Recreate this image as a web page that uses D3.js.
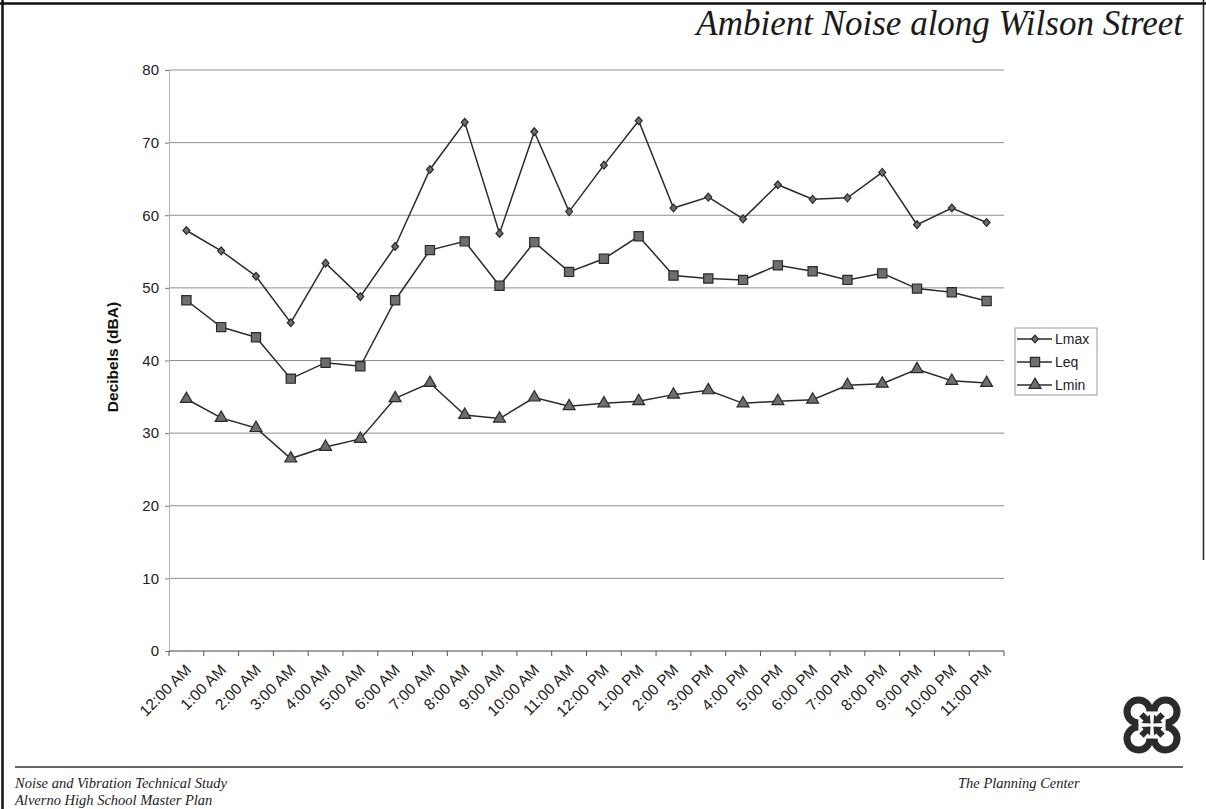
<!DOCTYPE html>
<html>
<head>
<meta charset="utf-8">
<script src="https://cdn.jsdelivr.net/npm/d3@7"></script>
<style>
  html, body { margin: 0; padding: 0; background: #fff; }
  svg { display: block; }
  .tick-label { font-family: Arial, "Liberation Sans", sans-serif; fill: #222; }
  .serif-italic { font-family: "Liberation Serif", "DejaVu Serif", serif; font-style: italic; }
</style>
</head>
<body>
<svg id="page" width="1206" height="809"></svg>
<script>
// Hourly ambient noise readings along Wilson Street (dBA)
const hours = ["12:00 AM","1:00 AM","2:00 AM","3:00 AM","4:00 AM","5:00 AM","6:00 AM","7:00 AM",
  "8:00 AM","9:00 AM","10:00 AM","11:00 AM","12:00 PM","1:00 PM","2:00 PM","3:00 PM",
  "4:00 PM","5:00 PM","6:00 PM","7:00 PM","8:00 PM","9:00 PM","10:00 PM","11:00 PM"];

const lmax = [57.9, 55.1, 51.6, 45.2, 53.4, 48.8, 55.7, 66.3, 72.8, 57.5, 71.5, 60.5,
  66.9, 73.0, 61.0, 62.5, 59.5, 64.2, 62.2, 62.4, 65.9, 58.7, 61.0, 59.0];
const leq = [48.3, 44.6, 43.2, 37.5, 39.7, 39.2, 48.3, 55.2, 56.4, 50.3, 56.3, 52.2,
  54.0, 57.1, 51.7, 51.3, 51.1, 53.1, 52.3, 51.1, 52.0, 49.9, 49.4, 48.2];
const lmin = [34.7, 32.1, 30.7, 26.5, 28.1, 29.2, 34.8, 36.9, 32.5, 32.0, 34.9, 33.7,
  34.1, 34.4, 35.3, 35.9, 34.1, 34.4, 34.6, 36.6, 36.8, 38.8, 37.2, 36.9];

const yTicks = [0, 10, 20, 30, 40, 50, 60, 70, 80];
const seriesNames = ["Lmax", "Leq", "Lmin"];

const svg = d3.select("#page");

// Page frame
svg.append("line").attr("x1", 0).attr("x2", 1206).attr("y1", 3.5).attr("y2", 3.5)
  .attr("stroke", "#111").attr("stroke-width", 2.5);
svg.append("line").attr("x1", 2.5).attr("x2", 2.5).attr("y1", 0).attr("y2", 809)
  .attr("stroke", "#111").attr("stroke-width", 2.5);
svg.append("line").attr("x1", 1203.5).attr("x2", 1203.5).attr("y1", 0).attr("y2", 560)
  .attr("stroke", "#222").attr("stroke-width", 1.5);

// Title
svg.append("text").attr("class", "serif-italic")
  .attr("x", 1183).attr("y", 35).attr("text-anchor", "end")
  .attr("font-size", 35).attr("fill", "#1a1a1a")
  .text("Ambient Noise along Wilson Street");

// Scales
const x = d3.scaleBand().domain(hours).range([169, 1004]).paddingInner(0).paddingOuter(0);
const y = d3.scaleLinear().domain([0, 80]).range([651, 70]);
const cx = d => x(d) + x.bandwidth() / 2;

const chart = svg.append("g");

// Horizontal gridlines
chart.append("g").selectAll("line").data(yTicks.filter(t => t > 0)).join("line")
  .attr("x1", 169).attr("x2", 1004)
  .attr("y1", d => y(d)).attr("y2", d => y(d))
  .attr("stroke", "#8f8f8f").attr("stroke-width", 1);

// Y axis
const yAxis = chart.append("g").attr("transform", "translate(169,0)")
  .call(d3.axisLeft(y).tickValues(yTicks).tickSize(4).tickPadding(6));
yAxis.select(".domain").attr("stroke", "#b5b5b5");
yAxis.selectAll(".tick line").attr("stroke", "#777");
yAxis.selectAll("text").attr("class", "tick-label").attr("font-size", 15)
  .attr("fill", "#222");

// X axis: tick marks on category boundaries, labels at centres
const xAxisG = chart.append("g").attr("transform", "translate(0,651)");
xAxisG.append("line").attr("x1", 169).attr("x2", 1004).attr("y1", 0).attr("y2", 0)
  .attr("stroke", "#444").attr("stroke-width", 1.2);
xAxisG.selectAll("line.tk").data(hours.concat(["end"])).join("line").attr("class", "tk")
  .attr("x1", (d, i) => 169 + i * x.step()).attr("x2", (d, i) => 169 + i * x.step())
  .attr("y1", 0).attr("y2", 5).attr("stroke", "#555");
xAxisG.selectAll("text.lbl").data(hours).join("text").attr("class", "lbl tick-label")
  .attr("font-size", 15.5).attr("text-anchor", "end")
  .attr("transform", d => `translate(${cx(d) + 2},${16}) rotate(-45)`)
  .attr("dy", "0.35em")
  .text(d => d);

// Y axis title
svg.append("text").attr("font-family", "Arial, 'Liberation Sans', sans-serif")
  .attr("font-weight", "bold").attr("font-size", 15.5).attr("fill", "#111")
  .attr("text-anchor", "middle")
  .attr("transform", "translate(118,357) rotate(-90)")
  .text("Decibels (dBA)");

// Series lines and markers
const diamond = { draw(ctx, size) { const r = Math.sqrt(size) / 2;
  ctx.moveTo(0, -r * 1.25); ctx.lineTo(r * 1.1, 0); ctx.lineTo(0, r * 1.25); ctx.lineTo(-r * 1.1, 0); ctx.closePath(); } };
const series = [
  { name: "Lmax", values: lmax, shape: diamond, size: 40 },
  { name: "Leq", values: leq, shape: d3.symbolSquare, size: 85 },
  { name: "Lmin", values: lmin, shape: d3.symbolTriangle, size: 62 }
];

const line = d3.line().x((d, i) => cx(hours[i])).y(d => y(d));

series.forEach(s => {
  chart.append("path").datum(s.values)
    .attr("fill", "none").attr("stroke", "#2a2a2a").attr("stroke-width", 1.5)
    .attr("d", line);
  chart.append("g").selectAll("path").data(s.values).join("path")
    .attr("transform", (d, i) => `translate(${cx(hours[i])},${y(d)})`)
    .attr("d", d3.symbol().type(s.shape).size(s.size))
    .attr("fill", "#6e6e6e").attr("stroke", "#2a2a2a").attr("stroke-width", 1.2);
});

// Legend
const legend = svg.append("g").attr("transform", "translate(1015,328)");
legend.append("rect").attr("x", 0).attr("y", 0).attr("width", 82).attr("height", 67)
  .attr("fill", "#fff").attr("stroke", "#9a9a9a").attr("stroke-width", 1);
series.forEach((s, i) => {
  const ly = 11 + i * 23;
  legend.append("line").attr("x1", 2).attr("x2", 37).attr("y1", ly).attr("y2", ly)
    .attr("stroke", "#2a2a2a").attr("stroke-width", 1.5);
  legend.append("path").attr("transform", `translate(20,${ly})`)
    .attr("d", d3.symbol().type(s.shape).size(s.size))
    .attr("fill", "#6e6e6e").attr("stroke", "#2a2a2a").attr("stroke-width", 1.2);
  legend.append("text").attr("class", "tick-label").attr("font-size", 14)
    .attr("x", 40).attr("y", ly).attr("dy", "0.35em").text(seriesNames[i]);
});

// Footer rule and text
svg.append("line").attr("x1", 15).attr("x2", 1183).attr("y1", 767).attr("y2", 767)
  .attr("stroke", "#333").attr("stroke-width", 1.5);
svg.append("text").attr("class", "serif-italic").attr("x", 15).attr("y", 788)
  .attr("font-size", 14.5).attr("fill", "#222").text("Noise and Vibration Technical Study");
svg.append("text").attr("class", "serif-italic").attr("x", 15).attr("y", 805)
  .attr("font-size", 14.5).attr("fill", "#222").text("Alverno High School Master Plan");
svg.append("text").attr("class", "serif-italic").attr("x", 958).attr("y", 788)
  .attr("font-size", 14.5).attr("fill", "#222").text("The Planning Center");

// Logo: four loops, each open towards the centre, around a four-point knot
const logo = svg.append("g").attr("transform", "translate(1152,725)");
const loopR = 11.5, off = 13.5;
[[-1, -1], [1, -1], [-1, 1], [1, 1]].forEach(([sx, sy]) => {
  const toCentre = Math.atan2(-sx, sy); // d3.arc angle pointing back to the knot
  const arc = d3.arc().innerRadius(loopR - 3.5).outerRadius(loopR + 3.5)
    .startAngle(toCentre + 0.8).endAngle(toCentre + 2 * Math.PI - 0.8);
  logo.append("path").attr("transform", `translate(${sx * off},${sy * off})`)
    .attr("d", arc()).attr("fill", "#2b2b2b");
});
[45, 135, 225, 315].forEach(r => {
  logo.append("path").attr("transform", `rotate(${r})`)
    .attr("d", "M0,-2 L-6,-9 L-3,-9 L-3,-15 L3,-15 L3,-9 L6,-9 Z")
    .attr("fill", "#2b2b2b");
});
</script>
</body>
</html>
